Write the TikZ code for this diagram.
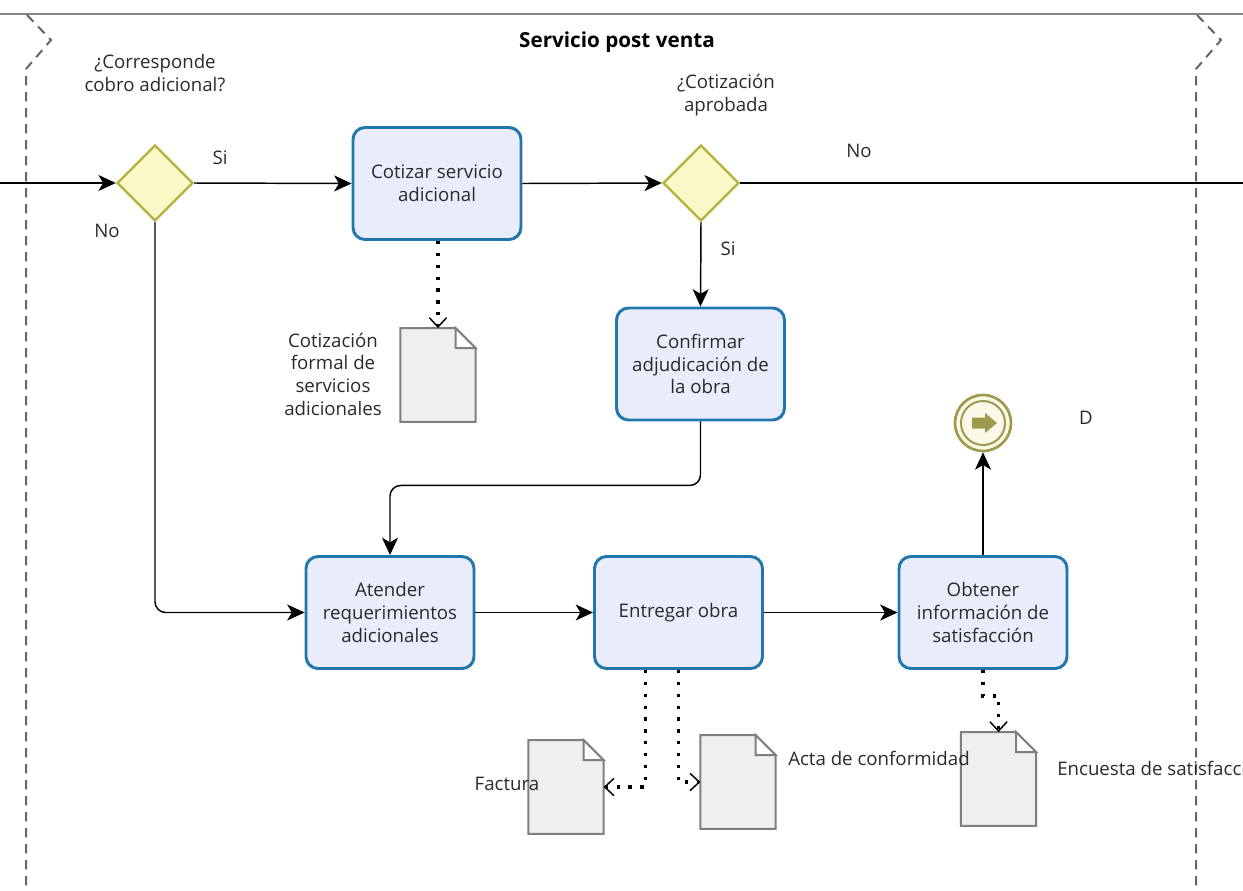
\documentclass[tikz,border=0pt]{standalone}
\usepackage{fontspec}
\setmainfont{Open Sans}
\usetikzlibrary{arrows.meta,shapes.geometric}
\hyphenpenalty=10000
\exhyphenpenalty=10000
\definecolor{taskfill}{HTML}{E8ECFB}
\definecolor{taskdraw}{HTML}{2277AA}
\definecolor{gwfill}{HTML}{FAF8C6}
\definecolor{gwdraw}{HTML}{B3B23E}
\definecolor{docfill}{HTML}{EFEFEF}
\definecolor{docdraw}{HTML}{7F7F7F}
\definecolor{evdraw}{HTML}{9E9A4C}
\definecolor{evfill}{HTML}{FBF8EA}
\definecolor{txt}{HTML}{2A2A2A}
\definecolor{lane}{HTML}{666666}
\tikzset{
  every node/.style={text=txt, font=\fontsize{14}{17}\selectfont},
  task/.style={rectangle, rounded corners=9pt, draw=taskdraw, fill=taskfill,
    line width=2.2pt, minimum width=126pt, minimum height=84pt,
    align=center},
  gateway/.style={diamond, draw=gwdraw, fill=gwfill, line width=1.8pt,
    minimum width=57pt, minimum height=57pt, inner sep=0pt, aspect=1},
  docbox/.style={rectangle, minimum width=56pt, minimum height=70pt, inner sep=0pt},
  docline/.style={draw=docdraw, line width=1.5pt, fill=docfill, line join=miter},
  flow/.style={draw=black, line width=1.1pt, -{Stealth[length=13pt,width=12pt,inset=3.5pt]}},
  plainflow/.style={draw=black, line width=1.1pt},
  assoc/.style={draw=black, line width=2.4pt, dash pattern=on 2.4pt off 6.5pt,
    -{Straight Barb[length=7pt,width=13pt,line width=1.1pt]}},
  lanedash/.style={draw=lane, line width=1.5pt, dash pattern=on 7pt off 5pt},
  lbl/.style={inner sep=0pt}
}
% folded-corner document drawn on the anchors of a named box
\newcommand{\docfold}[1]{%
  \draw[docline] (#1.south west) -- (#1.north west) -- ([xshift=-15pt]#1.north east)
    -- ([yshift=-15pt]#1.north east) -- (#1.south east) -- cycle;
  \draw[docline, fill=white] ([xshift=-15pt]#1.north east) -- ([yshift=-15pt]#1.north east)
    -| cycle;}
\begin{document}
\begin{tikzpicture}[x=0.75pt,y=-0.75pt]
\useasboundingbox (0,0) rectangle (1243,890);
\clip (0,0) rectangle (1243,890);
\fill[white] (0,0) rectangle (1243,890);

% pool header and lane borders
\coordinate (topl) at (0,14);
\coordinate (topr) at (1243,14);
\draw[draw=lane!80, line width=1.6pt] (topl) -- (topr);
\draw[lanedash] (27,15) -- (51,40) -- (26,69) -- (26,890);
\draw[lanedash] (1197,15) -- (1221,40) -- (1196,69) -- (1196,890);
\node[lbl, font=\bfseries\fontsize{15.5}{18}\selectfont, text=black] (title) at (617,42) {Servicio post venta};

% gateways
\node[gateway] (g1) at (155,183) {};
\node[gateway] (g2) at (701,183) {};

% tasks
\node[task] (t1) at (437,183.5) {Cotizar servicio\\adicional};
\node[task] (t2) at (700.5,364) {Confirmar\\adjudicación de\\la obra};
\node[task] (t3) at (390,612.5) {Atender\\requerimientos\\adicionales};
\node[task] (t4) at (678.5,612.5) {Entregar obra};
\node[task] (t5) at (983,612.5) {Obtener\\información de\\satisfacción};

% end event
\node[circle, draw=evdraw, fill=evfill, line width=2pt, minimum size=42pt, inner sep=0pt] (end) at (983,423) {};
\draw[evdraw, line width=1.5pt] (end.center) circle[radius=22];
\fill[evdraw] (972,417.5) -- (985,417.5) -- (985,413) -- (997,423) -- (985,433) -- (985,428.5) -- (972,428.5) -- cycle;

% documents
\node[docbox] (d1) at (438,375) {};
\node[docbox] (dfact) at (566,787) {};
\node[docbox] (dacta) at (738,782) {};
\node[docbox] (denc) at (998.5,779) {};
\docfold{d1}
\docfold{dfact}
\docfold{dacta}
\docfold{denc}

% sequence flows
\coordinate (in) at (0,183);
\coordinate (out) at (1243,183);
\draw[flow] (in) -- (g1.west);
\draw[flow] (g1.east) -- (t1.west);
\draw[flow] (t1.east) -- (g2.west);
\draw[plainflow] (g2.east) -- (out);
\draw[flow] (g2.south) -- (t2.north);
\draw[flow, rounded corners=8pt] (t2.south) -- ++(0,64) -| (t3.north);
\draw[flow, rounded corners=8pt] (g1.south) |- (t3.west);
\draw[flow] (t3.east) -- (t4.west);
\draw[flow] (t4.east) -- (t5.west);
\draw[flow] (t5.north) -- (end.south);

% data associations
\draw[assoc] (t1.south -| d1.north) -- (d1.north);
\draw[assoc] ([xshift=-25pt]t4.south) |- (dfact.east);
\draw[assoc] (t4.south) |- (dacta.west);
\draw[assoc] (t5.south) -- ++(0,26) -| (denc.north);

% labels
\node[lbl, align=center] (q1) at (155,73) {¿Corresponde\\cobro adicional?};
\node[lbl, align=center] (q2) at (726,95) {¿Cotización\\aprobada};
\node[lbl] (si1) at (220,158) {Si};
\node[lbl] (no1) at (107,231) {No};
\node[lbl] (no2) at (859,151) {No};
\node[lbl] (si2) at (728,249) {Si};
\node[lbl] (dlbl) at (1086,418) {D};
\node[lbl, align=center] (d1lbl) at (333,374) {Cotización\\formal de\\servicios\\adicionales};
\node[lbl] (factlbl) at (507,784) {Factura};
\node[lbl, anchor=west] (actalbl) at (788,758) {Acta de conformidad};
\node[lbl, anchor=west] (enclbl) at (1057,768) {Encuesta de satisfacción};
\end{tikzpicture}
\end{document}
